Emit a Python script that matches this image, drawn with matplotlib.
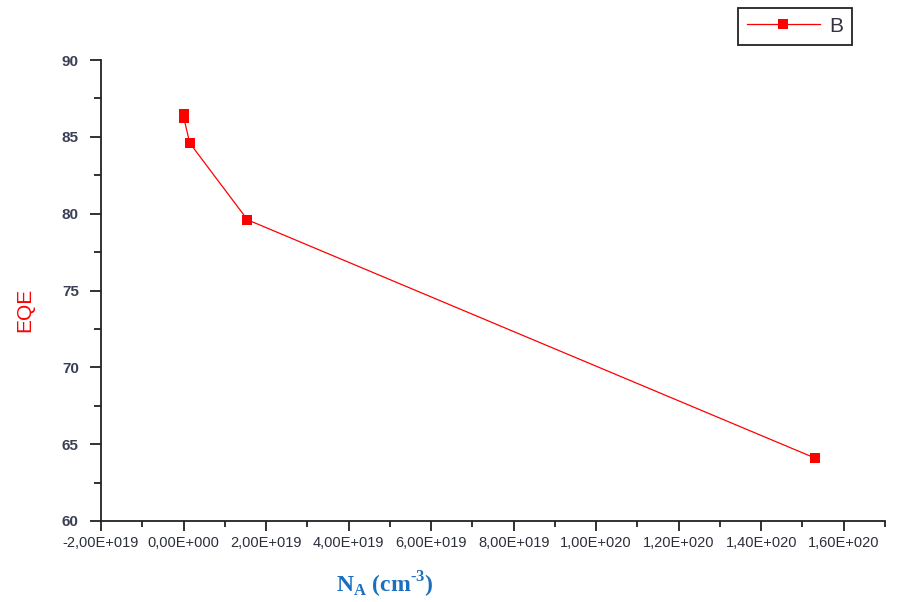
import numpy as np
import matplotlib
matplotlib.use('Agg')
import matplotlib.pyplot as plt
from matplotlib.ticker import FuncFormatter, MultipleLocator

# valores
na = [1e16, 1e17, 1.5e18, 1.55e19, 1.53e20]
eqe = [86.5, 86.2, 84.6, 79.6, 64.1]
serie = 'B'

plt.rcParams['font.family'] = ['Liberation Sans', 'DejaVu Sans']
plt.rcParams['mathtext.fontset'] = 'custom'
plt.rcParams['mathtext.rm'] = 'Liberation Serif:bold'
plt.rcParams['mathtext.bf'] = 'Liberation Serif:bold'

fig = plt.figure(figsize=(8.99, 6.02), dpi=100)
ax = fig.add_axes([101 / 899, 1 - 521 / 602, 784 / 899, 461 / 602])

ax.plot(na, eqe, color='red', linewidth=0.9, marker='s', markersize=7,
        markeredgewidth=0, label=serie)

ax.set_xlim(-2e19, 1.7e20)
ax.set_ylim(60, 90)


def fmt_e(v, pos):
    # formato tipo Origin: 2,00E+019
    if v == 0:
        return '0,00E+000'
    exp = int(np.floor(np.log10(abs(v)) + 1e-9))
    man = v / 10 ** exp
    signo = '+' if exp >= 0 else '-'
    return f'{man:.2f}'.replace('.', ',') + f'E{signo}{abs(exp):03d}'


ax.xaxis.set_major_locator(MultipleLocator(2e19))
ax.xaxis.set_minor_locator(MultipleLocator(1e19))
ax.xaxis.set_major_formatter(FuncFormatter(fmt_e))
ax.yaxis.set_major_locator(MultipleLocator(5))
ax.yaxis.set_minor_locator(MultipleLocator(2.5))

for s in ['top', 'right']:
    ax.spines[s].set_visible(False)
for s in ['left', 'bottom']:
    ax.spines[s].set_linewidth(1.3)
    ax.spines[s].set_color('#222222')

ax.tick_params(axis='x', which='major', length=7, width=1.3, color='#222222',
               labelsize=10.5, labelcolor='#2a2f3a', pad=4)
ax.tick_params(axis='x', which='minor', length=4, width=1.3, color='#222222')
ax.tick_params(axis='y', which='major', length=8, width=1.3, color='#222222',
               labelsize=11, labelcolor='#3a3f55', pad=8)
ax.tick_params(axis='y', which='minor', length=5, width=1.3, color='#222222')
for t in ax.get_yticklabels():
    t.set_fontweight('bold')

fig.text(25 / 899, 1 - 310 / 602, 'EQE', color='red', fontsize=15,
         rotation=90, ha='center', va='center')
fig.text(385 / 899, 1 - 585 / 602, 'N$_\\mathrm{A}$ (cm$^\\mathrm{\u20103}$)',
         color='#1a6fc0', fontsize=17, fontweight='bold',
         family=['Liberation Serif'], ha='center', va='center')

leg = fig.legend(loc='upper left', bbox_to_anchor=(738 / 899, 1 - 8 / 602),
                 borderaxespad=0, fancybox=False, framealpha=1,
                 edgecolor='#222222', fontsize=15, handlelength=3.5,
                 handletextpad=0.45, borderpad=0.42)
leg.get_frame().set_linewidth(1.3)
for t in leg.get_texts():
    t.set_color('#333344')

fig.savefig('out.png', dpi=100)
